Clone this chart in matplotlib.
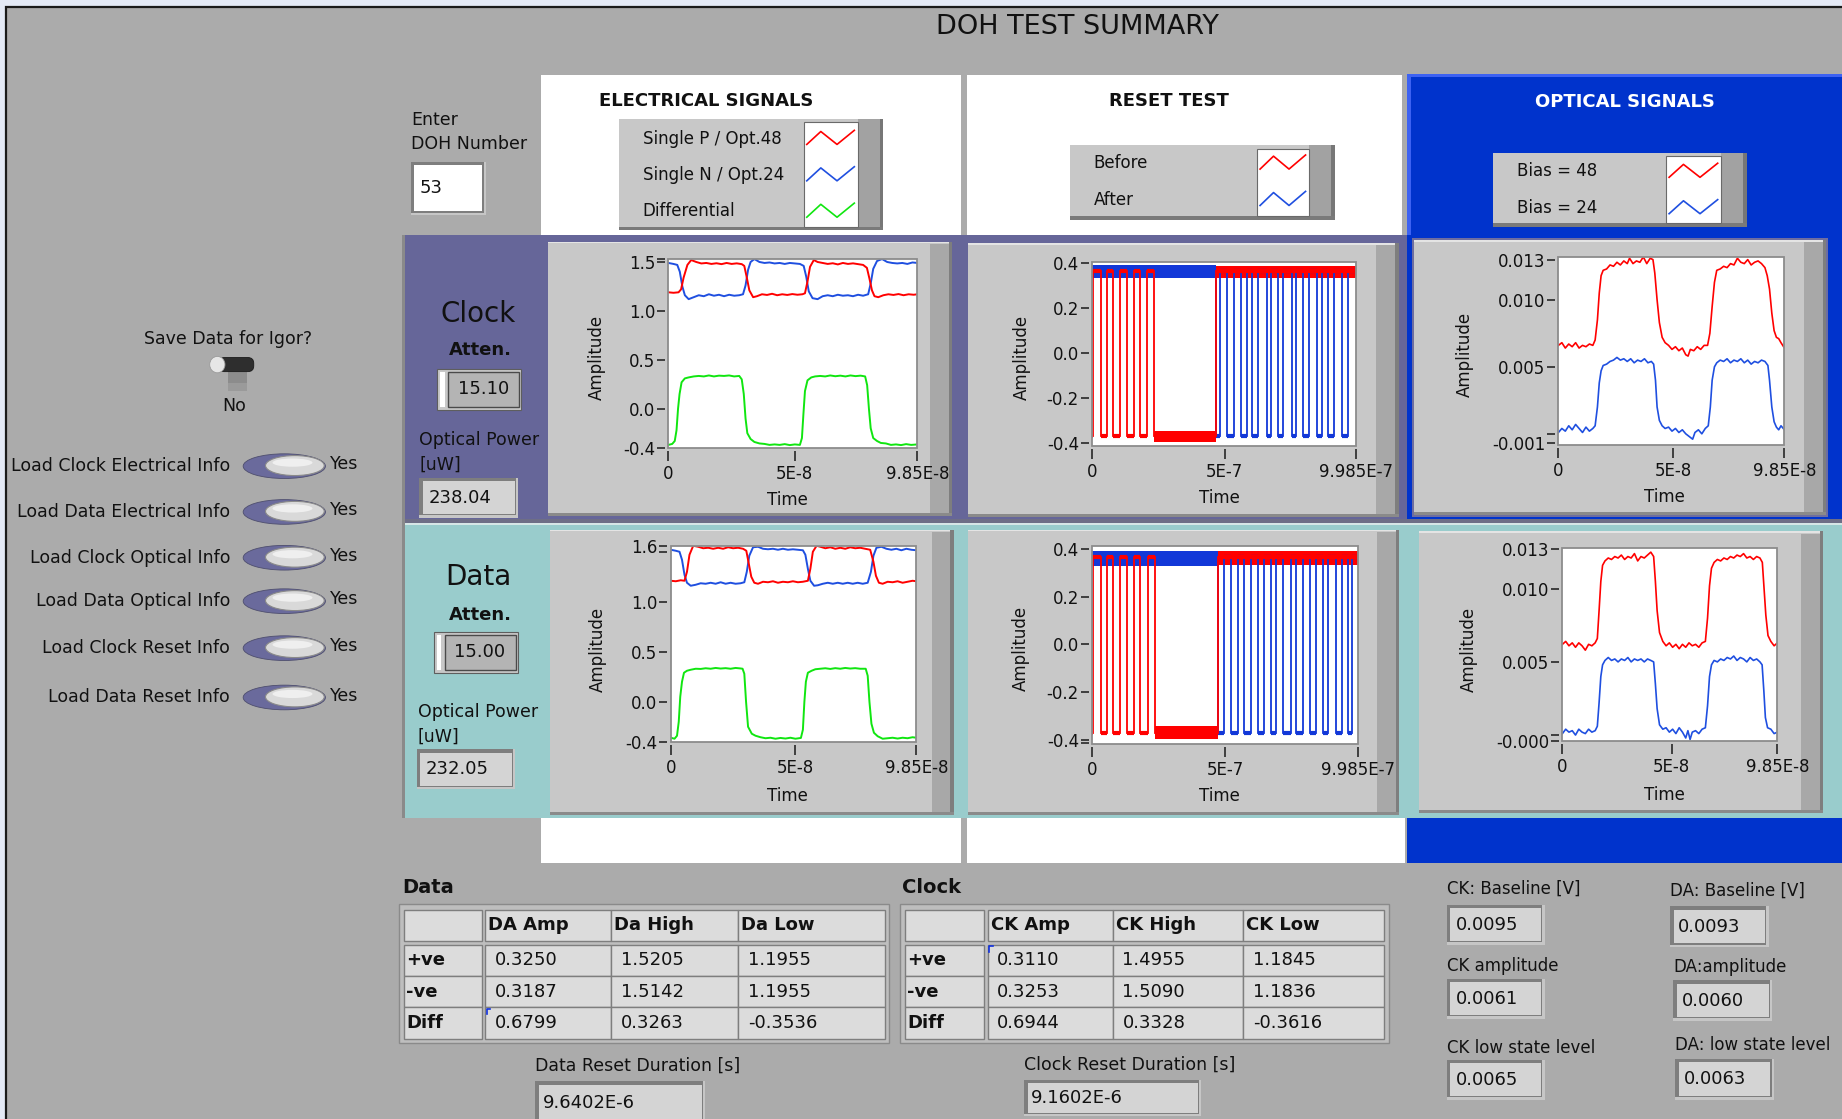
import numpy as np
import matplotlib
matplotlib.use('Agg')
import matplotlib.pyplot as plt
from matplotlib.patches import Rectangle, Ellipse, FancyBboxPatch

plt.rcParams['font.family'] = 'DejaVu Sans'

# ---------------------------------------------------------------
# Scope traces, time in ns
# ---------------------------------------------------------------
# Clock, electrical: single P, single N, differential
e1_red = [(0, 1.19), (2, 1.185), (4, 1.19), (5, 1.22), (6, 1.34), (7.5, 1.47), (9, 1.52), (11, 1.50),
          (13, 1.485), (15, 1.49), (17, 1.48), (19, 1.487), (21, 1.478), (23, 1.49), (25, 1.48),
          (27, 1.486), (29, 1.478), (30, 1.46), (31, 1.34), (32, 1.21), (33.5, 1.14), (35, 1.15),
          (37, 1.17), (39, 1.163), (41, 1.175), (43, 1.16), (45, 1.17), (47, 1.163), (49, 1.172),
          (51, 1.165), (53, 1.17), (54, 1.18), (55, 1.30), (56, 1.45), (57.5, 1.52), (59, 1.50),
          (61, 1.49), (63, 1.48), (65, 1.487), (67, 1.475), (69, 1.49), (71, 1.48), (73, 1.486),
          (75, 1.478), (77, 1.47), (78.5, 1.44), (79.5, 1.33), (80.5, 1.21), (81.5, 1.15), (83, 1.14),
          (85, 1.16), (87, 1.17), (89, 1.163), (91, 1.172), (93, 1.16), (95, 1.17), (97, 1.165),
          (98.5, 1.17)]
e1_blue = [(0, 1.49), (2, 1.48), (3.5, 1.47), (4.5, 1.40), (5.5, 1.25), (6.5, 1.16), (8, 1.12),
           (10, 1.14), (12, 1.16), (14, 1.15), (16, 1.17), (18, 1.155), (20, 1.165), (22, 1.15),
           (24, 1.165), (26, 1.155), (28, 1.16), (29.5, 1.17), (30.5, 1.26), (31.5, 1.42), (32.5, 1.50),
           (34, 1.53), (36, 1.50), (38, 1.49), (40, 1.495), (42, 1.485), (44, 1.49), (46, 1.48),
           (48, 1.49), (50, 1.485), (52, 1.48), (53.5, 1.46), (54.5, 1.35), (55.5, 1.20), (57, 1.13),
           (59, 1.12), (61, 1.15), (63, 1.16), (65, 1.15), (67, 1.165), (69, 1.155), (71, 1.16),
           (73, 1.15), (75, 1.165), (77, 1.155), (79, 1.17), (80, 1.28), (81, 1.43), (82.5, 1.51),
           (84.5, 1.53), (86.5, 1.50), (88.5, 1.49), (90.5, 1.485), (92.5, 1.49), (94.5, 1.48),
           (96.5, 1.495), (98.5, 1.49)]
e1_green = [(0, -0.37), (1.5, -0.36), (2.5, -0.33), (3.2, -0.22), (3.8, 0.0), (4.4, 0.15), (5.2, 0.27),
            (6.5, 0.31), (8, 0.32), (10, 0.33), (12, 0.335), (14, 0.33), (16, 0.34), (18, 0.33),
            (20, 0.338), (22, 0.335), (24, 0.34), (26, 0.33), (28, 0.335), (29, 0.30), (29.8, 0.15),
            (30.5, -0.10), (31.2, -0.25), (32.5, -0.31), (34, -0.34), (36, -0.355), (38, -0.36),
            (40, -0.37), (42, -0.365), (44, -0.37), (46, -0.362), (48, -0.372), (50, -0.365),
            (52, -0.37), (52.8, -0.30), (53.4, -0.05), (54, 0.18), (55, 0.29), (56.5, 0.32), (58, 0.33),
            (60, 0.335), (62, 0.33), (64, 0.34), (66, 0.332), (68, 0.338), (70, 0.33), (72, 0.34),
            (74, 0.333), (76, 0.338), (77.8, 0.33), (78.6, 0.24), (79.3, 0.0), (80, -0.2), (81, -0.3),
            (82.5, -0.33), (84, -0.35), (86, -0.355), (88, -0.37), (90, -0.365), (92, -0.372),
            (94, -0.362), (96, -0.37), (98.5, -0.365)]

# Data, electrical
e2_red = [(0, 1.21), (2, 1.205), (4, 1.215), (5.5, 1.21), (6.5, 1.30), (7.5, 1.47), (9, 1.56), (11, 1.55),
          (13, 1.535), (15, 1.54), (17, 1.53), (19, 1.54), (21, 1.53), (23, 1.545), (25, 1.535),
          (27, 1.54), (29, 1.53), (30.3, 1.51), (31.3, 1.38), (32.3, 1.25), (33.5, 1.19), (35, 1.18),
          (37, 1.2), (39, 1.195), (41, 1.205), (43, 1.19), (45, 1.2), (47, 1.195), (49, 1.205),
          (51, 1.195), (53, 1.2), (55, 1.21), (56, 1.33), (57, 1.50), (58.5, 1.56), (60, 1.55),
          (62, 1.535), (64, 1.545), (66, 1.53), (68, 1.54), (70, 1.53), (72, 1.545), (74, 1.535),
          (76, 1.54), (78, 1.53), (80, 1.52), (81.3, 1.40), (82.3, 1.26), (83.5, 1.19), (85, 1.18),
          (87, 1.2), (89, 1.195), (91, 1.205), (93, 1.19), (95, 1.2), (97, 1.21), (98.5, 1.205)]
e2_blue = [(0, 1.52), (2, 1.51), (3.5, 1.50), (4.5, 1.42), (5.5, 1.27), (6.5, 1.19), (8, 1.16),
           (10, 1.17), (12, 1.185), (14, 1.18), (16, 1.19), (18, 1.18), (20, 1.195), (22, 1.18),
           (24, 1.19), (26, 1.18), (28, 1.185), (29.5, 1.195), (30.5, 1.30), (31.5, 1.46), (33, 1.545),
           (35, 1.55), (37, 1.53), (39, 1.525), (41, 1.53), (43, 1.52), (45, 1.53), (47, 1.52),
           (49, 1.525), (51, 1.52), (53, 1.515), (54, 1.47), (55, 1.33), (56, 1.21), (57.5, 1.16),
           (59, 1.165), (61, 1.18), (63, 1.19), (65, 1.18), (67, 1.19), (69, 1.18), (71, 1.19),
           (73, 1.18), (75, 1.19), (77, 1.18), (79, 1.19), (80.3, 1.30), (81.3, 1.46), (82.5, 1.54),
           (84.5, 1.55), (86.5, 1.53), (88.5, 1.52), (90.5, 1.53), (92.5, 1.515), (94.5, 1.53),
           (96.5, 1.52), (98.5, 1.515)]
e2_green = [(0, -0.36), (1.5, -0.37), (2.5, -0.34), (3.2, -0.2), (3.8, 0.05), (4.5, 0.2), (5.3, 0.29),
            (6.5, 0.31), (8, 0.32), (10, 0.33), (12, 0.328), (14, 0.335), (16, 0.33), (18, 0.338),
            (20, 0.332), (22, 0.336), (24, 0.33), (26, 0.338), (28, 0.333), (28.8, 0.33), (29.5, 0.28),
            (30.2, 0.0), (31, -0.25), (32.5, -0.32), (34, -0.34), (36, -0.355), (38, -0.365),
            (40, -0.36), (42, -0.37), (44, -0.362), (46, -0.368), (48, -0.36), (50, -0.37),
            (52.2, -0.362), (53, -0.28), (53.6, 0.0), (54.2, 0.2), (55, 0.29), (56.5, 0.31),
            (58, 0.325), (60, 0.33), (62, 0.335), (64, 0.328), (66, 0.336), (68, 0.33), (70, 0.338),
            (72, 0.332), (74, 0.336), (76, 0.33), (78.2, 0.33), (79, 0.26), (79.7, 0.0), (80.5, -0.22),
            (81.5, -0.31), (83, -0.345), (85, -0.37), (87, -0.365), (89, -0.36), (91, -0.368),
            (93, -0.36), (95, -0.365), (97, -0.355), (98.5, -0.36)]

# Reset test: switching edges (ns) and the steady noisy bands
r1_red_edges = [4, 32, 57, 79, 106, 132, 159, 181, 208, 234, 467]
r1_blue_edges = [467, 482, 510, 535, 563, 584, 605, 627, 659, 676, 701, 722, 754, 771, 797, 818,
                 850, 867, 892, 914, 945, 967]
r1_red_bands = [(234, 467, -0.395, -0.345), (467, 998.5, 0.335, 0.388)]
r1_blue_bands = [(0, 467, 0.332, 0.39)]

r2_red_edges = [4, 32, 57, 78, 106, 131, 159, 180, 208, 236, 471]
r2_blue_edges = [471, 496, 523, 549, 570, 597, 623, 644, 671, 692, 718, 745, 766, 792, 817, 840,
                 866, 887, 914, 939, 960, 977]
r2_red_bands = [(236, 471, -0.397, -0.342), (471, 998.5, 0.332, 0.39)]
r2_blue_bands = [(0, 471, 0.328, 0.39)]

# Optical: bias 48 / bias 24
o1_red = [(0, 0.0066), (1.5, 0.0068), (3, 0.0064), (4.5, 0.0067), (6, 0.0065), (7.5, 0.0068), (9, 0.0064),
          (10.5, 0.0066), (12, 0.0065), (13.5, 0.0067), (15, 0.0066), (16, 0.0070), (17, 0.0085),
          (17.8, 0.0105), (18.6, 0.0118), (19.5, 0.0122), (21, 0.0123), (22.5, 0.0126), (24, 0.0125),
          (25.5, 0.0128), (27, 0.0126), (28.5, 0.0129), (30, 0.0127), (31, 0.0131), (32.5, 0.0127),
          (34, 0.0129), (35.5, 0.0128), (37, 0.0132), (38.5, 0.0127), (40, 0.0131), (41.2, 0.0130),
          (42, 0.0120), (43, 0.0100), (44, 0.0083), (45.2, 0.0072), (46.5, 0.0068), (48, 0.0066),
          (49.5, 0.0063), (51, 0.0065), (52.5, 0.0062), (54, 0.0064), (55.5, 0.0059), (56.5, 0.0058),
          (57.5, 0.0063), (59, 0.0062), (60.5, 0.0065), (62, 0.0063), (63.5, 0.0066), (65, 0.0066),
          (66, 0.0075), (67, 0.0095), (68, 0.0113), (69, 0.0122), (70.5, 0.0123), (72, 0.0125),
          (73.5, 0.0124), (75, 0.0127), (76.5, 0.0126), (78, 0.0131), (79.5, 0.0128), (81, 0.0127),
          (82.5, 0.0130), (84, 0.0126), (85.5, 0.0128), (87, 0.0129), (88.5, 0.0127), (90, 0.0124),
          (91, 0.0118), (92, 0.0108), (93, 0.0090), (94, 0.0077), (95, 0.0072), (96, 0.0071),
          (97, 0.0068), (98.5, 0.0064)]
o1_blue = [(0, 0.0001), (1.5, 0.0004), (3, 0.0002), (4.5, 0.0006), (6, 0.0003), (7.5, 0.0007), (9, 0.0004),
           (10.5, 0.0001), (12, 0.0005), (13.5, 0.0002), (15, 0.0004), (16, 0.0006), (17, 0.0020),
           (17.8, 0.0038), (18.6, 0.0047), (19.5, 0.0051), (21, 0.0052), (22.5, 0.0054), (24, 0.0055),
           (25.5, 0.0057), (27, 0.0055), (28.5, 0.0056), (30, 0.0054), (31.5, 0.0056), (33, 0.0053),
           (34.5, 0.0055), (36, 0.0054), (37.5, 0.0056), (39, 0.0053), (40.5, 0.0054), (41.5, 0.0052),
           (42.3, 0.0040), (43, 0.0020), (44, 0.0010), (45.2, 0.0006), (46.5, 0.0004), (48, 0.0005),
           (49.5, 0.0002), (51, 0.0004), (52.5, 0.0001), (54, 0.0003), (55.5, 0.0000), (57, -0.0002),
           (58.5, -0.0004), (59.5, 0.0001), (61, 0.0003), (62.5, 0.0000), (64, 0.0004), (65.3, 0.0006),
           (66.2, 0.0020), (67, 0.0040), (68, 0.0050), (69, 0.0053), (70.5, 0.0055), (72, 0.0054),
           (73.5, 0.0056), (75, 0.0053), (76.5, 0.0055), (78, 0.0054), (79.5, 0.0056), (81, 0.0053),
           (82.5, 0.0055), (84, 0.0052), (85.5, 0.0054), (87, 0.0053), (88.5, 0.0055), (90, 0.0054),
           (91.3, 0.0051), (92, 0.0040), (93, 0.0020), (94, 0.0009), (95, 0.0005), (96, 0.0003),
           (97, 0.0006), (98.5, 0.0003)]
o2_red = [(0, 0.0062), (1.5, 0.0064), (3, 0.0061), (4.5, 0.0063), (6, 0.0060), (7.5, 0.0063), (9, 0.0061),
          (10.5, 0.0058), (12, 0.0062), (13.5, 0.0061), (15, 0.0063), (16, 0.0066), (16.8, 0.0085),
          (17.6, 0.0105), (18.4, 0.0116), (19.5, 0.0119), (21, 0.0121), (22.5, 0.0120), (24, 0.0122),
          (25.5, 0.0121), (27, 0.0123), (28.5, 0.0120), (30, 0.0122), (31.5, 0.0121), (33, 0.0124),
          (34.5, 0.0119), (36, 0.0122), (37.5, 0.0121), (39, 0.0123), (40.5, 0.0125), (41.8, 0.0122),
          (42.6, 0.0105), (43.4, 0.0085), (44.5, 0.0070), (46, 0.0064), (47.5, 0.0061), (49, 0.0063),
          (50.5, 0.0060), (52, 0.0062), (53.5, 0.0059), (55, 0.0062), (56.5, 0.0060), (58, 0.0063),
          (59.5, 0.0061), (61, 0.0062), (62.5, 0.0060), (64, 0.0063), (65.5, 0.0064), (66.5, 0.0080),
          (67.4, 0.0102), (68.3, 0.0114), (69.5, 0.0118), (71, 0.0120), (72.5, 0.0119), (74, 0.0121),
          (75.5, 0.0120), (77, 0.0122), (78.5, 0.0121), (80, 0.0123), (81.5, 0.0122), (83, 0.0124),
          (84.5, 0.0121), (86, 0.0122), (87.5, 0.0120), (89, 0.0122), (90.5, 0.0121), (91.6, 0.0118),
          (92.4, 0.0100), (93.2, 0.0082), (94.2, 0.0068), (95.5, 0.0064), (97, 0.0061), (98.5, 0.0063)]
o2_blue = [(0, 0.0001), (1.5, 0.0004), (3, 0.0002), (4.5, 0.0003), (6, 0.0000), (7.5, 0.0004), (9, 0.0002),
           (10.5, 0.0001), (12, 0.0004), (13.5, 0.0002), (15, 0.0003), (16, 0.0006), (16.8, 0.0022),
           (17.6, 0.0040), (18.4, 0.0048), (19.5, 0.0051), (21, 0.0053), (22.5, 0.0051), (24, 0.0052),
           (25.5, 0.0050), (27, 0.0052), (28.5, 0.0051), (30, 0.0053), (31.5, 0.0050), (33, 0.0052),
           (34.5, 0.0051), (36, 0.0052), (37.5, 0.0050), (39, 0.0052), (40.5, 0.0051), (41.8, 0.0050),
           (42.6, 0.0035), (43.4, 0.0018), (44.5, 0.0007), (46, 0.0004), (47.5, 0.0005), (49, 0.0002),
           (50.5, 0.0004), (52, 0.0001), (53.5, 0.0005), (55, 0.0002), (56.5, -0.0002), (57.5, 0.0003),
           (58.5, -0.0003), (59.5, 0.0002), (61, 0.0003), (62.5, 0.0001), (64, 0.0004), (65.5, 0.0005),
           (66.5, 0.0020), (67.4, 0.0040), (68.3, 0.0048), (69.5, 0.0051), (71, 0.0050), (72.5, 0.0052),
           (74, 0.0051), (75.5, 0.0053), (77, 0.0052), (78.5, 0.0054), (80, 0.0051), (81.5, 0.0053),
           (83, 0.0052), (84.5, 0.0050), (86, 0.0053), (87.5, 0.0051), (89, 0.0052), (90.5, 0.0050),
           (91.5, 0.0048), (92.3, 0.0030), (93, 0.0012), (94, 0.0005), (95.5, 0.0004), (97, 0.0001),
           (98.5, 0.0002)]

# ---------------------------------------------------------------
# Front panel readouts
# ---------------------------------------------------------------
doh_number = '53'
clock_atten, clock_power = '15.10', '238.04'
data_atten, data_power = '15.00', '232.05'
load_items = ['Load Clock Electrical Info', 'Load Data Electrical Info', 'Load Clock Optical Info',
              'Load Data Optical Info', 'Load Clock Reset Info', 'Load Data Reset Info']
elec_legend = ['Single P / Opt.48', 'Single N / Opt.24', 'Differential']
reset_legend = ['Before', 'After']
optical_legend = ['Bias = 48', 'Bias = 24']
row_names = ['+ve', '-ve', 'Diff']
data_cols = ['DA Amp', 'Da High', 'Da Low']
data_vals = [[0.3250, 1.5205, 1.1955], [0.3187, 1.5142, 1.1955], [0.6799, 0.3263, -0.3536]]
clock_cols = ['CK Amp', 'CK High', 'CK Low']
clock_vals = [[0.3110, 1.4955, 1.1845], [0.3253, 1.5090, 1.1836], [0.6944, 0.3328, -0.3616]]
data_reset, clock_reset = '9.6402E-6', '9.1602E-6'
ck_labels = ['CK: Baseline [V]', 'CK amplitude', 'CK low state level']
ck_vals = [0.0095, 0.0061, 0.0065]
da_labels = ['DA: Baseline [V]', 'DA:amplitude', 'DA: low state level']
da_vals = [0.0093, 0.0060, 0.0063]

PAGE, PURPLE, TEAL, BLUE = '#ABABAB', '#666699', '#99CCCC', '#0033CC'
RED, EBLUE, GREEN, RBLUE = '#FF0000', '#1F4FE0', '#10E610', '#1238D8'

# panel laid out on a 1568 x 953 grid, y running downwards
W, H = 1568, 953
fig = plt.figure(figsize=(18.42, 11.19), dpi=100)
bg = fig.add_axes([0, 0, 1, 1])
bg.set_xlim(0, W)
bg.set_ylim(H, 0)
bg.axis('off')


def rect(x0, y0, x1, y1, fc, ec='none', lw=0, z=1):
    bg.add_patch(Rectangle((x0, y0), x1 - x0, y1 - y0, facecolor=fc, edgecolor=ec, linewidth=lw, zorder=z))


def txt(x, y, s, size=12, ha='left', va='center', color='#111111', **kw):
    bg.text(x, y, s, fontsize=size, ha=ha, va=va, color=color, zorder=10, **kw)


def field(x0, y0, x1, y1, s, size=13, fc='#D4D4D4', tx=None):
    rect(x0, y0, x1, y1, '#C6C6C6', z=2)
    rect(x0, y0, x1 - 2, y1 - 2, '#7E7E7E', z=2)
    rect(x0 + 3, y0 + 3, x1 - 3, y1 - 3, fc, z=2)
    txt(x0 + 6 if tx is None else tx, (y0 + y1) / 2, s, size=size)


def graph_box(x0, y0, x1, y1):
    rect(x0, y0, x1, y1, '#C8C8C8', z=2)
    rect(x0, y0, x1, y0 + 1.5, '#E4E4E4', z=2)
    rect(x1 - 19, y0 + 2, x1 - 3, y1 - 2, '#A8A8A8', z=2)
    rect(x1 - 3, y0, x1, y1, '#7E7E7E', z=2)
    rect(x0, y1 - 2.5, x1, y1, '#8A8A8A', z=2)


def legend_box(x0, y0, x1, y1, sw0, sw1, labels, ys, colors):
    rect(x0, y0, x1, y1, '#C8C8C8', z=2)
    rect(x1 - 22, y0, x1, y1, '#A2A2A2', z=2)
    rect(x1 - 3, y0, x1, y1, '#777777', z=2)
    rect(x0, y1 - 3, x1, y1, '#7A7A7A', z=2)
    rect(sw0, y0 + 3, sw1, y1 - 3, 'white', ec='#6A6A6A', lw=0.8, z=3)
    fx = np.array([0.06, 0.32, 0.62, 0.94])
    fy = np.array([5, -6, 5, -7])
    for lab, y, c in zip(labels, ys, colors):
        txt(x0 + 20, y, lab, size=12)
        bg.plot(sw0 + fx * (sw1 - sw0), y + fy, color=c, lw=1.2, zorder=4)


def scope(x0, y0, x1, y1, xlim, ylim, xt, xl, yt, yl, ymin=None):
    ax = fig.add_axes([x0 / W, 1 - y1 / H, (x1 - x0) / W, (y1 - y0) / H])
    ax.set_facecolor('white')
    ax.set_xlim(*xlim)
    ax.set_ylim(*ylim)
    for s in ax.spines.values():
        s.set_visible(False)
    ax.spines['left'].set_position(('outward', 2.5))
    ax.spines['bottom'].set_position(('outward', 2.5))
    ax.add_patch(Rectangle((0, 0), 1, 1, transform=ax.transAxes, fill=False, ec='#8C8C8C',
                           lw=1.3, clip_on=False, zorder=6))
    ax.set_xticks(xt, xl)
    ax.set_yticks(yt, yl)
    if ymin is not None:
        ax.set_yticks(ymin, minor=True)
    ax.tick_params(axis='both', which='both', direction='out', color='#1A1A1A', width=1.1,
                   labelsize=12, labelcolor='#111111')
    ax.tick_params(axis='y', which='both', length=5.5, pad=1.5)
    ax.tick_params(axis='x', length=7, pad=3)
    return ax


def pts(ax, data, color, lw=1.4):
    t, v = np.array(data).T
    ax.plot(t, v, color=color, lw=lw)


def reset_trace(ax, edges, start_high, bands, color, hi=0.365, lo=-0.37):
    bounds = [0.0] + list(edges) + [998.5]
    level = start_high
    for a, b in zip(bounds[:-1], bounds[1:]):
        y = hi if level else lo
        ax.plot([a, b], [y, y], color=color, lw=3.0, solid_capstyle='butt')
        level = not level
    for e in edges:
        ax.plot([e, e], [lo, hi], color=color, lw=1.3)
    for a, b, l, h in bands:
        ax.fill_between([a, b], l, h, color=color, lw=0)


# window chrome and page
rect(0, 0, W, H, '#E4EAF6', z=0)
rect(5.5, 6, W + 2, H + 2, PAGE, ec='#1A1A1A', lw=1.6, z=0)
txt(917, 23, 'DOH TEST SUMMARY', size=19.5, ha='center')

# column headers
rect(460.6, 64, 818, 200, 'white')
rect(823, 64, 1193.5, 200, 'white')
rect(1197.8, 63, W, 200, BLUE)
rect(1197.8, 63, W, 66, '#3D62F2')
rect(1197.8, 63, 1201, 200, '#3D62F2')
txt(601, 86, 'ELECTRICAL SIGNALS', size=13, ha='center', weight='bold')
txt(995, 86, 'RESET TEST', size=13, ha='center', weight='bold')
txt(1383, 87, 'OPTICAL SIGNALS', size=13, ha='center', weight='bold', color='white')

legend_box(527, 101, 752, 196, 684, 730, elec_legend, [118, 149, 180], [RED, EBLUE, GREEN])
legend_box(911, 123.5, 1136, 187, 1070, 1114, reset_legend, [139, 170], [RED, EBLUE])
legend_box(1271, 130, 1487, 193, 1418, 1465, optical_legend, [146, 177], [RED, EBLUE])

txt(350, 102, 'Enter', size=12.5)
txt(350, 122.5, 'DOH Number', size=12.5)
field(349.7, 137.6, 413.7, 183, doh_number, size=13, fc='white', tx=357)

# row backgrounds
rect(342.5, 200, 345, 697, '#8A8A8A')
rect(345, 200, 1198, 443, PURPLE)
rect(1198, 200, W, 443, BLUE)
rect(345, 442, W, 445, '#6E6E86')
rect(345, 445, W, 447, '#D6E6E6')
rect(345, 447, W, 697, TEAL)
rect(460.6, 697, 818, 735, 'white')
rect(823, 697, 1196, 735, 'white')
rect(1198, 697, W, 735, BLUE)

graph_box(466.5, 205.7, 810.5, 439.3)
graph_box(824.4, 207, 1190.7, 440)
rect(1202, 202.5, 1556.5, 440.5, '#6E6EA0')
graph_box(1204, 204.3, 1554.5, 438.4)
graph_box(468, 451, 812, 693.8)
graph_box(824.4, 451, 1191, 693.8)
graph_box(1207.5, 452.6, 1552, 692.4)

# clock / data side controls
for name, ya, at, pw in [('Clock', 267, clock_atten, clock_power), ('Data', 491, data_atten, data_power)]:
    dy = ya - 267
    txt(407, ya, name, size=20, ha='center')
    txt(409, 298 + dy * 1.006, 'Atten.', size=13, ha='center', weight='bold')
    ax0, ay0, ax1, ay1 = 372.4 - (3 if name == 'Data' else 0), 314 + dy, 443.9 - (3 if name == 'Data' else 0), 349 + dy
    rect(ax0, ay0, ax1, ay1, '#C8C8C8', ec='#5E5E5E', lw=0.8, z=2)
    rect(ax0 + 2.5, ay0 + 2.5, ax0 + 6, ay1 - 2.5, 'white', z=3)
    rect(ax0 + 9, ay0 + 2.5, ax1 - 2, ay1 - 2.5, '#B4B4B4', ec='#4A4A4A', lw=1.0, z=3)
    txt((ax0 + 9 + ax1 - 2) / 2, (ay0 + ay1) / 2, at, size=13, ha='center')
    op = 374.6 + (232 if name == 'Data' else 0)
    txt(357 - (1.3 if name == 'Data' else 0), op, 'Optical Power', size=12.5)
    txt(357 - (1.3 if name == 'Data' else 0), op + 21, '[uW]', size=12.5)
    fx0 = 357 if name == 'Clock' else 354.8
    fy0 = 407 if name == 'Clock' else 638
    field(fx0, fy0, fx0 + 84, fy0 + 34, pw, size=13, tx=fx0 + 7.5)

# left-hand switches
txt(194, 289, 'Save Data for Igor?', size=12.5, ha='center')
rect(194, 316, 210, 333, '#8C8C8C', z=2)
rect(194, 326, 210, 333, '#9A9A9A', z=2)
bg.add_patch(FancyBboxPatch((186, 304.5), 30, 12, boxstyle='round,pad=0,rounding_size=5',
                            fc='#2E2E2E', ec='#1A1A1A', lw=0.6, zorder=3))
bg.add_patch(Ellipse((185, 310.5), 13, 14, fc='#E6E6E6', ec='#9A9A9A', lw=0.6, zorder=4))
txt(199, 346, 'No', size=12.5, ha='center')

for item, y in zip(load_items, [397, 436, 475, 512, 552, 594]):
    txt(196, y, item, size=12.5, ha='right')
    bg.add_patch(Ellipse((242, y), 70, 21, fc='#6A6A9C', ec='#4E4E6E', lw=0.6, zorder=3))
    bg.add_patch(Ellipse((251, y - 0.5), 50, 17, fc='#D9D9D9', ec='#8A8A8A', lw=0.8, zorder=4))
    bg.add_patch(Ellipse((249, y - 3), 34, 7, fc='#EFEFEF', ec='none', zorder=4))
    txt(281, y - 1.5, 'Yes', size=12.5)

# scope displays
NS = ['0', '5E-8', '9.85E-8']
US = ['0', '5E-7', '9.985E-7']
ax = scope(569, 220.2, 781, 381.4, (0, 98.5), (-0.40, 1.535), [0, 50, 98.5], NS,
           [-0.4, 0.0, 0.5, 1.0, 1.5], ['-0.4', '0.0', '0.5', '1.0', '1.5'], ymin=[1.53])
pts(ax, e1_green, GREEN)
pts(ax, e1_blue, EBLUE)
pts(ax, e1_red, RED)

ax = scope(571, 464.8, 780, 631.7, (0, 98.5), (-0.40, 1.56), [0, 50, 98.5], NS,
           [-0.4, 0.0, 0.5, 1.0, 1.557], ['-0.4', '0.0', '0.5', '1.0', '1.6'], ymin=[1.5])
pts(ax, e2_green, GREEN)
pts(ax, e2_blue, EBLUE)
pts(ax, e2_red, RED)

ax = scope(929.7, 222.8, 1154.7, 379.7, (0, 998.5), (-0.412, 0.407), [0, 500, 998.5], US,
           [-0.4, -0.2, 0.0, 0.2, 0.4], ['-0.4', '-0.2', '0.0', '0.2', '0.4'])
reset_trace(ax, r1_blue_edges, True, r1_blue_bands, RBLUE)
reset_trace(ax, r1_red_edges, False, r1_red_bands, RED)

ax = scope(929.7, 464.8, 1156, 633.4, (0, 998.5), (-0.417, 0.414), [0, 500, 998.5], US,
           [-0.4, -0.2, 0.0, 0.2, 0.4], ['-0.4', '-0.2', '0.0', '0.2', '0.4'], ymin=[-0.414])
reset_trace(ax, r2_blue_edges, True, r2_blue_bands, RBLUE)
reset_trace(ax, r2_red_edges, False, r2_red_bands, RED)

ax = scope(1326.6, 218.8, 1519, 378.6, (0, 98.5), (-0.0008, 0.0132), [0, 50, 98.5], NS,
           [-0.0007, 0.005, 0.010, 0.013], ['-0.001', '0.005', '0.010', '0.013'], ymin=[0.0])
pts(ax, o1_blue, EBLUE, lw=1.2)
pts(ax, o1_red, RED, lw=1.2)

ax = scope(1330, 466.5, 1513, 631, (0, 98.5), (-0.0004, 0.0128), [0, 50, 98.5], NS,
           [-0.0004, 0.005, 0.010, 0.0127], ['-0.000', '0.005', '0.010', '0.013'], ymin=[0.0])
pts(ax, o2_blue, EBLUE, lw=1.2)
pts(ax, o2_red, RED, lw=1.2)

for xa, ya, xt, yt in [(508, 304, 670, 426), (870, 304, 1038, 424), (1247, 302, 1417, 423),
                       (509, 553, 670, 678), (869, 552, 1038, 678), (1250, 553, 1417, 677)]:
    txt(xa, ya, 'Amplitude', size=12, ha='center', rotation=90)
    txt(xt, yt, 'Time', size=12, ha='center')


# summary tables
def summary_table(x0, title, cols, vals, edges):
    txt(x0 + 2, 756, title, size=14, weight='bold')
    rect(x0, 770, edges[-1] + 4, 888, '#BEBEBE', ec='#8A8A8A', lw=1, z=2)
    rows = [(774.7, 801.5), (804.5, 831.3), (831.3, 858), (858, 884.5)]
    cells = [(edges[0], edges[1]), (edges[2], edges[3]), (edges[3], edges[4]), (edges[4], edges[5])]
    for r, (ry0, ry1) in enumerate(rows):
        for c, (cx0, cx1) in enumerate(cells):
            rect(cx0, ry0, cx1, ry1, '#DCDCDC', ec='#7E7E7E', lw=1, z=3)
            ym = (ry0 + ry1) / 2
            if r == 0 and c > 0:
                txt(cx0 + 2.5, ym, cols[c - 1], size=13, weight='bold')
            elif r > 0 and c == 0:
                txt(cx0 + 2, ym, row_names[r - 1], size=13, weight='bold')
            elif r > 0:
                txt(cx0 + 8, ym, f'{vals[r - 1][c - 1]:.4f}', size=13)


summary_table(340, 'Data', data_cols, data_vals, [344, 410.5, 413, 520.5, 628.5, 753])
summary_table(766, 'Clock', clock_cols, clock_vals, [770, 838, 841, 947.5, 1058.5, 1178])
bg.plot([414.2, 414.2, 417.5], [864, 859.4, 859.4], color='#1030E0', lw=1.2, zorder=5)
bg.plot([842.2, 842.2, 845.5], [810.5, 805.9, 805.9], color='#1030E0', lw=1.2, zorder=5)

txt(455.4, 908, 'Data Reset Duration [s]', size=12.5)
field(455.4, 920.8, 600.4, 958, data_reset, size=13, tx=462)
txt(871.7, 906.6, 'Clock Reset Duration [s]', size=12.5)
field(871.7, 919.4, 1022.7, 950.6, clock_reset, size=13, tx=877.5)

for lab, v, ly, by in zip(ck_labels, ck_vals, [757, 822.3, 892.4], [770.4, 833.7, 902.4]):
    txt(1232, ly, lab, size=12)
    field(1231.5, by, 1315, by + 34, f'{v:.4f}', size=13, tx=1239)
for lab, v, lx, ly, by in zip(da_labels, da_vals, [1421.6, 1424.5, 1426], [759, 823.5, 889.6],
                              [771.8, 834.8, 901.8]):
    txt(lx, ly, lab, size=12)
    field(lx, by, lx + 84, by + 34.6, f'{v:.4f}', size=13, tx=lx + 7)

fig.savefig('out.png', dpi=100)
